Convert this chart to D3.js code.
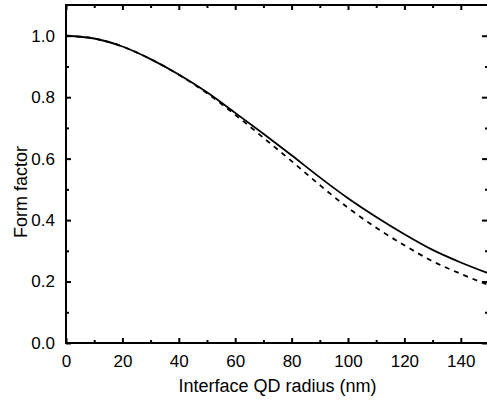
<!DOCTYPE html>
<html><head><meta charset="utf-8">
<script src="https://cdn.jsdelivr.net/npm/d3@7"></script>
<style>html,body{margin:0;padding:0;background:#fff;overflow:hidden}</style>
</head><body>
<svg id="chart" width="487" height="405"></svg>
<script>
const radius = [0,10,20,30,40,50,60,70,80,90,100,110,120,130,140,150];
const solidValues = [1.0,0.991,0.965,0.924,0.874,0.816,0.749,0.681,0.611,0.539,0.471,0.410,0.354,0.303,0.262,0.226];
const dashedValues = [1.0,0.991,0.965,0.924,0.873,0.813,0.743,0.668,0.592,0.514,0.440,0.375,0.318,0.266,0.225,0.188];
const xTicks = [0,20,40,60,80,100,120,140];
const yTicks = [0.0,0.2,0.4,0.6,0.8,1.0];
const xLabel = "Interface QD radius (nm)";
const yLabel = "Form factor";

const svg = d3.select("#chart");
const L = 66, T = 5, R = 489, B = 343;
const x = d3.scaleLinear().domain([0,150]).range([L,R]);
const y = d3.scaleLinear().domain([0,1.1]).range([B,T]);
const font = "Liberation Sans, Arial, sans-serif";

const xMinor = d3.range(10,150,20);
const yMinor = d3.range(0.1,1.1,0.2);

function styleAxis(g){
  g.select(".domain").remove();
  g.selectAll("line").attr("stroke","#000").attr("stroke-width",2);
  g.selectAll("text").attr("font-family",font).attr("font-size","17px").attr("fill","#000");
}
// bottom
svg.append("g").attr("transform",`translate(0,${B})`)
  .call(d3.axisBottom(x).tickValues(xTicks).tickSize(-5).tickPadding(12).tickFormat(d3.format("d")))
  .call(styleAxis);
svg.append("g").attr("transform",`translate(0,${B})`)
  .call(d3.axisBottom(x).tickValues(xMinor).tickSize(-3).tickFormat(""))
  .call(styleAxis);
// top
svg.append("g").attr("transform",`translate(0,${T})`)
  .call(d3.axisTop(x).tickValues(xTicks).tickSize(-5).tickFormat(""))
  .call(styleAxis);
svg.append("g").attr("transform",`translate(0,${T})`)
  .call(d3.axisTop(x).tickValues(xMinor).tickSize(-3).tickFormat(""))
  .call(styleAxis);
// left
svg.append("g").attr("transform",`translate(${L},0)`)
  .call(d3.axisLeft(y).tickValues(yTicks).tickSize(-5).tickPadding(11).tickFormat(d3.format(".1f")))
  .call(styleAxis);
svg.append("g").attr("transform",`translate(${L},0)`)
  .call(d3.axisLeft(y).tickValues(yMinor).tickSize(-3).tickFormat(""))
  .call(styleAxis);
// right
svg.append("g").attr("transform",`translate(${R},0)`)
  .call(d3.axisRight(y).tickValues(yTicks).tickSize(-7).tickFormat(""))
  .call(styleAxis);
svg.append("g").attr("transform",`translate(${R},0)`)
  .call(d3.axisRight(y).tickValues(yMinor).tickSize(-4).tickFormat(""))
  .call(styleAxis);

// frame
svg.append("rect").attr("x",L).attr("y",T).attr("width",R-L).attr("height",B-T)
  .attr("fill","none").attr("stroke","#000").attr("stroke-width",2);

const line = d3.line().x((d,i)=>x(radius[i])).y(d=>y(d)).curve(d3.curveMonotoneX);
svg.append("clipPath").attr("id","clip").append("rect")
  .attr("x",L).attr("y",T).attr("width",R-L).attr("height",B-T);
svg.append("path").datum(dashedValues).attr("d",line).attr("fill","none")
  .attr("stroke","#000").attr("stroke-width",1.8).attr("stroke-dasharray","5,5")
  .attr("clip-path","url(#clip)");
svg.append("path").datum(solidValues).attr("d",line).attr("fill","none")
  .attr("stroke","#000").attr("stroke-width",1.8).attr("clip-path","url(#clip)");

svg.append("text").attr("x",(L+R)/2).attr("y",392).attr("text-anchor","middle")
  .attr("font-family",font).attr("font-size","18px").attr("fill","#000").text(xLabel);
svg.append("text").attr("transform",`translate(27,${192}) rotate(-90)`).attr("text-anchor","middle")
  .attr("font-family",font).attr("font-size","18px").attr("fill","#000").text(yLabel);
</script>
</body></html>
